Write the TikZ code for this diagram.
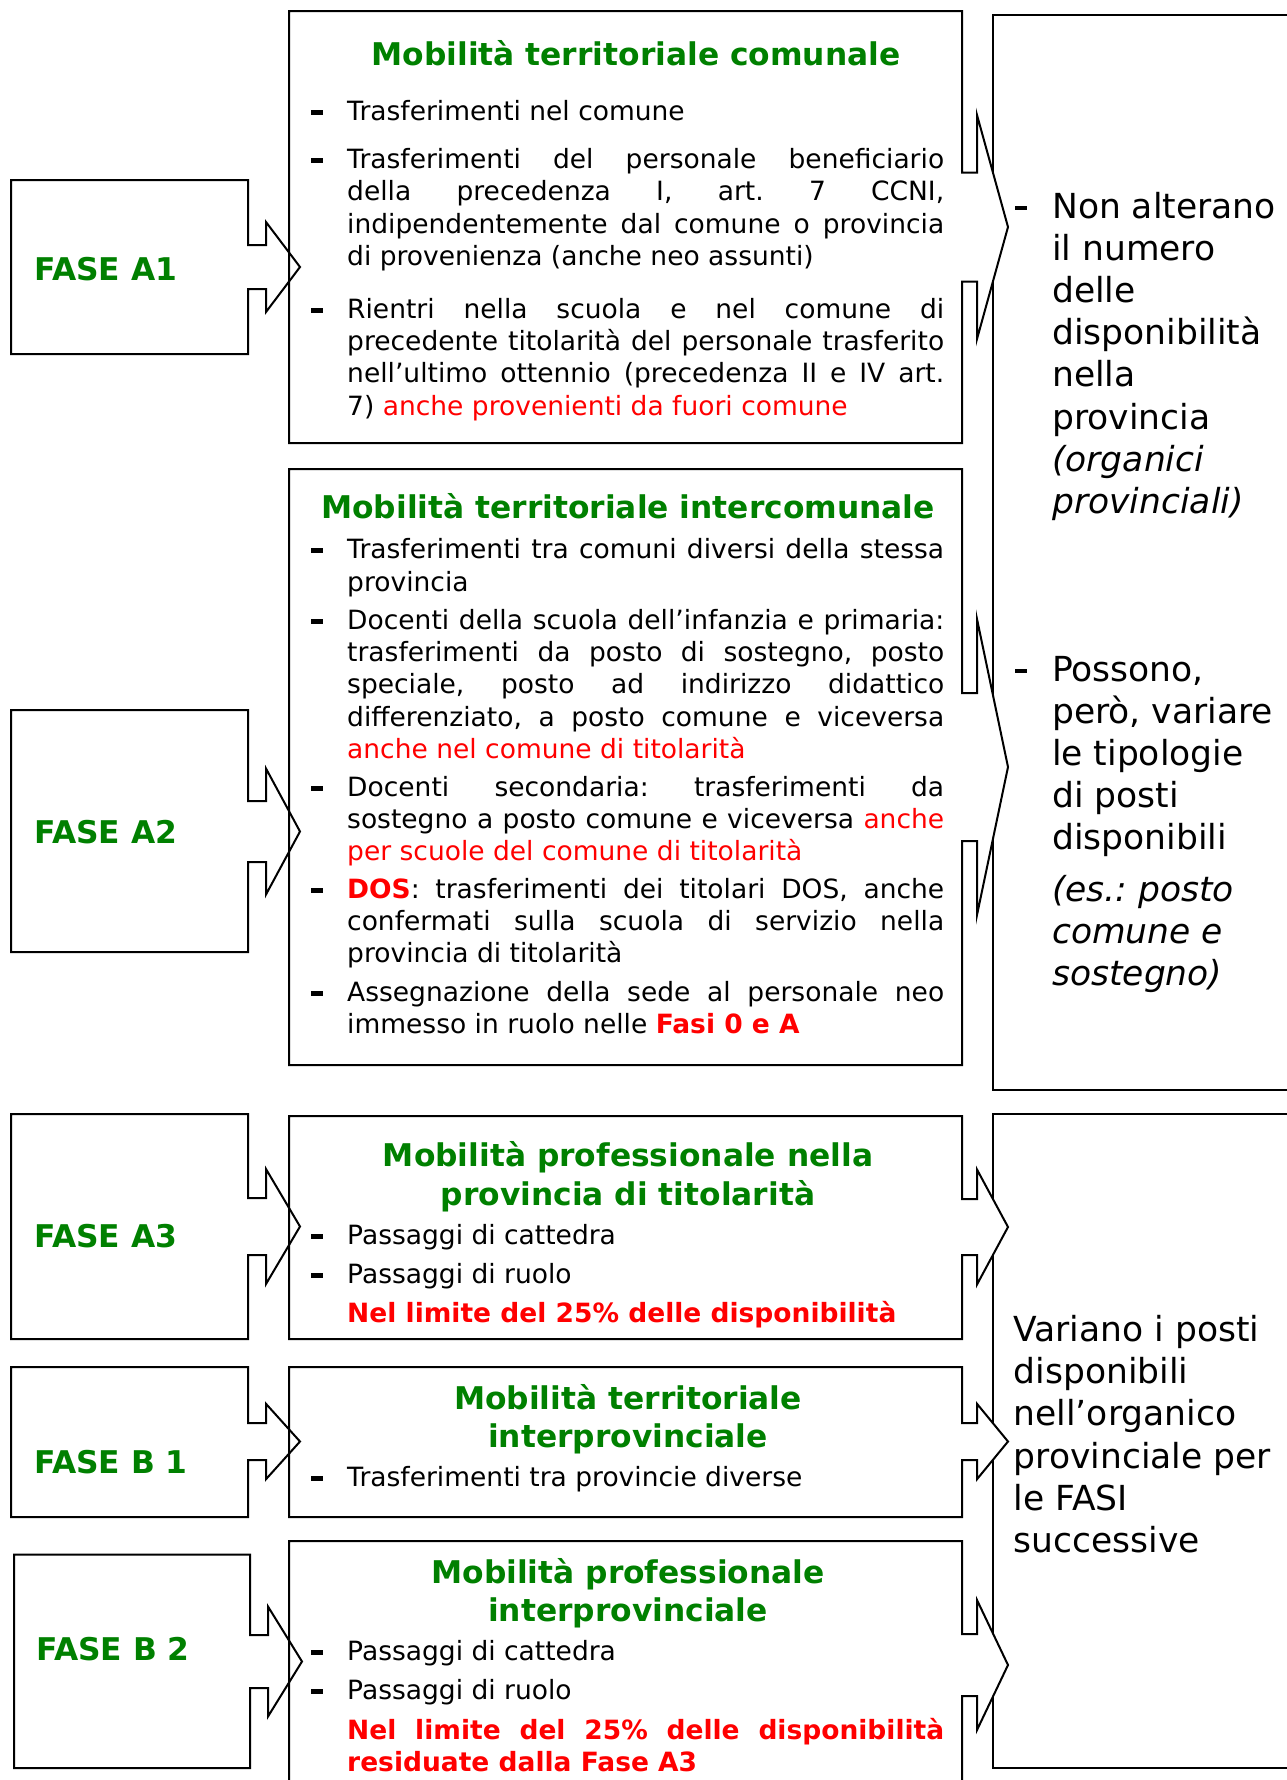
\documentclass[tikz,border=0pt]{standalone}
\usepackage{fontspec}
\setmainfont{DejaVu Sans}
\frenchspacing
\definecolor{fgreen}{RGB}{0,128,0}
\definecolor{fred}{RGB}{255,0,0}
\newcommand\jl[1]{\hbox to 597pt{#1}}
\newcommand\lastl[1]{\hbox{#1}}
\newcommand\cl[1]{\hbox to 0pt{\hss#1\hss}}
\newcommand\red[1]{\textcolor{fred}{#1}}
\newcommand\redb[1]{\textcolor{fred}{\bfseries #1}}
\newcommand\bul[1]{\fill (311,#1-10.5) rectangle (323,#1-5.5);}
\newcommand\rbul[1]{\fill (1015,#1-12) rectangle (1027,#1-8);}
% xl, yt, xr, yb, notch x, tip x, centre y, shaft half, head half
\newcommand\callout[9]{\draw[callout] (#1,#2) -- (#3,#2) -- (#3,#7-#8) -- (#5,#7-#8) -- (#5,#7-#9) -- (#6,#7) -- (#5,#7+#9) -- (#5,#7+#8) -- (#3,#7+#8) -- (#3,#4) -- (#1,#4) -- cycle;}
\begin{document}
\frenchspacing
\begin{tikzpicture}[x=1pt,y=-1pt]
\tikzset{
 frame/.style={draw=black, line width=2pt},
 body/.style={inner sep=0pt, font=\fontsize{26.5}{32.3}\selectfont\frenchspacing, anchor=base west},
 ttl/.style={inner sep=0pt, text=fgreen, font=\fontsize{31.3}{38.6}\selectfont\bfseries, anchor=base},
 fase/.style={inner sep=0pt, text=fgreen, font=\fontsize{31.3}{38}\selectfont\bfseries, anchor=base west},
 rtext/.style={inner sep=0pt, font=\fontsize{34.5}{42.2}\selectfont\frenchspacing, anchor=base west},
}
\useasboundingbox (0,0) rectangle (1286,1780);
% right boxes
\draw[frame, fill=white] (993,15) rectangle (1320,1090);
\draw[frame, fill=white] (993,1114) rectangle (1320,1768);
% middle callouts
\begin{scope}[callout/.style={frame, fill=white}]
\callout{289}{11}{962}{443}{977}{1008}{227}{54.5}{112}
\callout{289}{469}{962}{1065}{977}{1008}{767}{74}{148}
\callout{289}{1116}{962}{1339}{977}{1008}{1227}{28}{57.5}
\callout{289}{1367}{962}{1517}{977}{1008}{1441.5}{18.5}{37.7}
\callout{289}{1541}{962}{1810}{977}{1008}{1665}{31}{65}
\end{scope}
% left callouts
\begin{scope}[callout/.style={frame}]
\callout{11}{180}{248}{354}{266}{300}{267}{22}{45}
\callout{11}{710}{248}{952}{266}{300}{831.5}{30.5}{63}
\callout{11}{1114}{248}{1339}{266}{300}{1226.5}{28.5}{57.5}
\callout{11}{1367}{248}{1517}{266}{300}{1441.5}{18.5}{37.7}
\callout{14}{1554.5}{250}{1768}{268}{302}{1661.5}{26.5}{55}
\end{scope}
% FASE labels
\node[fase] (fa1) at (34,280) {FASE A1};
\node[fase] (fa2) at (34,843) {FASE A2};
\node[fase] (fa3) at (34,1247) {FASE A3};
\node[fase] (fb1) at (34,1473) {FASE B 1};
\node[fase] (fb2) at (36,1660) {FASE B 2};
% box 1
\node[ttl] (t1) at (636,65.5) {Mobilità territoriale comunale};
\bul{120.5}\node[body] (a1) at (347,120.5) {Trasferimenti nel comune};
\bul{168.5}\node[body] (a2) at (347,168.5) {\vtop{\jl{Trasferimenti del personale beneficiario}\jl{della precedenza I, art. 7 CCNI,}\jl{indipendentemente dal comune o provincia}\lastl{di provenienza (anche neo assunti)}}};
\bul{318.2}\node[body] (a3) at (347,318.2) {\vtop{\jl{Rientri nella scuola e nel comune di}\jl{precedente titolarità del personale trasferito}\jl{nell’ultimo ottennio (precedenza II e IV art.}\lastl{7) \red{anche provenienti da fuori comune}}}};
% box 2
\node[ttl] (t2) at (628,518) {Mobilità territoriale intercomunale};
\bul{558.8}\node[body] (b1) at (347,558.8) {\vtop{\jl{Trasferimenti tra comuni diversi della stessa}\lastl{provincia}}};
\bul{629.2}\node[body] (b2) at (347,629.2) {\vtop{\jl{Docenti della scuola dell’infanzia e primaria:}\jl{trasferimenti da posto di sostegno, posto}\jl{speciale, posto ad indirizzo didattico}\jl{differenziato, a posto comune e viceversa}\lastl{\red{anche nel comune di titolarità}}}};
\bul{796.1}\node[body] (b3) at (347,796.1) {\vtop{\jl{Docenti secondaria: trasferimenti da}\jl{sostegno a posto comune e viceversa \red{anche}}\lastl{\red{per scuole del comune di titolarità}}}};
\bul{898.2}\node[body] (b4) at (347,898.2) {\vtop{\jl{\redb{DOS}: trasferimenti dei titolari DOS, anche}\jl{confermati sulla scuola di servizio nella}\lastl{provincia di titolarità}}};
\bul{1001.5}\node[body] (b5) at (347,1001.5) {\vtop{\jl{Assegnazione della sede al personale neo}\lastl{immesso in ruolo nelle \redb{Fasi 0 e A}}}};
% box 3
\node[ttl] (t3) at (628,1166.4) {\vtop{\cl{Mobilità professionale nella}\cl{provincia di titolarità}}};
\bul{1244.4}\node[body] (c1) at (347,1244.4) {Passaggi di cattedra};
\bul{1283}\node[body] (c2) at (347,1283) {Passaggi di ruolo};
\node[body] (c3) at (347,1322.7) {\redb{Nel limite del 25\% delle disponibilità}};
% box 4
\node[ttl] (t4) at (628,1409.3) {\vtop{\cl{Mobilità territoriale}\cl{interprovinciale}}};
\bul{1486.1}\node[body] (d1) at (347,1486.1) {Trasferimenti tra provincie diverse};
% box 5
\node[ttl] (t5) at (628,1583) {\vtop{\cl{Mobilità professionale}\cl{interprovinciale}}};
\bul{1660.9}\node[body] (e1) at (347,1660.9) {Passaggi di cattedra};
\bul{1699.5}\node[body] (e2) at (347,1699.5) {Passaggi di ruolo};
\node[body] (e3) at (347,1739.2) {\vtop{\jl{\redb{Nel limite del 25\% delle disponibilità}}\lastl{\redb{residuate dalla Fase A3}}}};
% right texts
\rbul{218}\node[rtext] (r1) at (1052,218) {\vtop{\hbox{Non alterano}\hbox{il numero}\hbox{delle}\hbox{disponibilità}\hbox{nella}\hbox{provincia}\hbox{\itshape(organici}\hbox{\itshape provinciali)}}};
\rbul{681}\node[rtext] (r2) at (1052,681) {\vtop{\hbox{Possono,}\hbox{però, variare}\hbox{le tipologie}\hbox{di posti}\hbox{disponibili}}};
\node[rtext] (r3) at (1052,901) {\vtop{\itshape\hbox{(es.: posto}\hbox{comune e}\hbox{sostegno)}}};
\node[rtext] (r4) at (1013.5,1341.5) {\vtop{\hbox{Variano i posti}\hbox{disponibili}\hbox{nell’organico}\hbox{provinciale per}\hbox{le FASI}\hbox{successive}}};
\end{tikzpicture}
\end{document}
